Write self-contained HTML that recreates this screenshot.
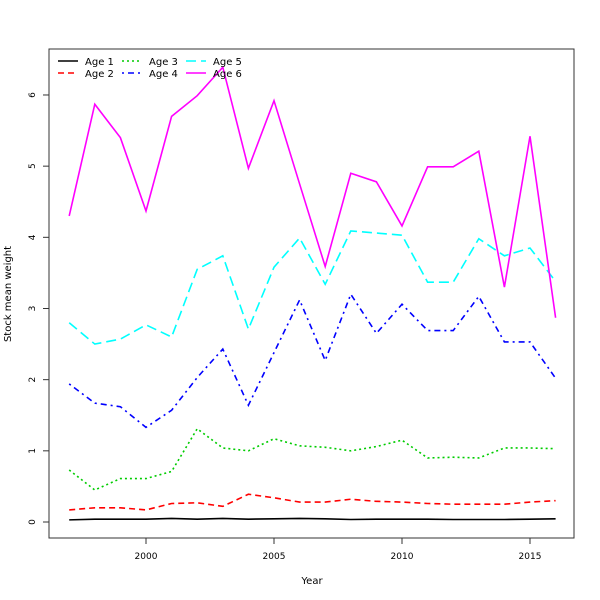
<!DOCTYPE html>
<html><head><meta charset="utf-8"><style>
body{margin:0;background:#fff}
svg{display:block;font-family:"DejaVu Sans","Liberation Sans",sans-serif}
</style></head><body>
<svg id="chart" width="600" height="600">
<rect x="0" y="0" width="600" height="600" fill="#fff"/>
<rect x="49" y="49" width="525" height="489" fill="none" stroke="#333" stroke-width="1"/>
<g id="axes"></g><g id="series"></g><g id="legend"></g>
<text x="312" y="584" text-anchor="middle" font-size="10">Year</text>
<text x="11" y="294" text-anchor="middle" font-size="10" transform="rotate(-90 11 294)">Stock mean weight</text>
</svg>
<script>
const years=[1997,1998,1999,2000,2001,2002,2003,2004,2005,2006,2007,2008,2009,2010,2011,2012,2013,2014,2015,2016];
const age1=[0.03,0.04,0.04,0.04,0.05,0.04,0.05,0.04,0.045,0.05,0.045,0.035,0.04,0.04,0.04,0.035,0.035,0.035,0.04,0.045];
const age2=[0.17,0.20,0.20,0.17,0.26,0.27,0.22,0.39,0.34,0.28,0.28,0.32,0.29,0.28,0.26,0.25,0.25,0.25,0.28,0.30];
const age3=[0.73,0.45,0.61,0.61,0.71,1.31,1.04,1.00,1.17,1.07,1.05,1.00,1.06,1.15,0.90,0.91,0.90,1.04,1.04,1.03];
const age4=[1.94,1.67,1.62,1.33,1.57,2.03,2.43,1.64,2.38,3.12,2.27,3.20,2.65,3.06,2.69,2.69,3.17,2.53,2.53,2.02];
const age5=[2.80,2.50,2.57,2.77,2.60,3.55,3.74,2.71,3.58,3.99,3.34,4.09,4.06,4.03,3.37,3.37,3.98,3.74,3.85,3.38];
const age6=[4.30,5.87,5.40,4.37,5.70,5.99,6.39,4.97,5.92,4.75,3.59,4.90,4.78,4.16,4.99,4.99,5.21,3.30,5.42,2.87];
const xTicks=[2000,2005,2010,2015];
const yTicks=[0,1,2,3,4,5,6];
const NS='http://www.w3.org/2000/svg';
function xs(v){return 146+(v-2000)*25.6;}
function ys(v){return 522-v*71.17;}
function mk(tag,attrs,parent){const e=document.createElementNS(NS,tag);for(const k in attrs)e.setAttribute(k,attrs[k]);parent.appendChild(e);return e;}
const axes=document.getElementById('axes');
xTicks.forEach(t=>{
  const l=mk('line',{x1:xs(t),x2:xs(t),y1:538,y2:544,stroke:'#333'},axes);
  
  
  const tx=mk('text',{x:xs(t),y:559,'text-anchor':'middle','font-size':9},axes);
  tx.textContent=t;
  
  
});
yTicks.forEach(t=>{
  const l=mk('line',{x1:43,x2:49,y1:ys(t),y2:ys(t),stroke:'#333'},axes);
  
  
  const tx=mk('text',{x:35,y:ys(t),'text-anchor':'middle','font-size':9,transform:`rotate(-90 35 ${ys(t)})`},axes);
  tx.textContent=t;
  
  
});
const series=[
 {n:'Age 1',d:age1,c:'#000',da:''},
 {n:'Age 2',d:age2,c:'#f00',da:'6 4'},
 {n:'Age 3',d:age3,c:'#0c0',da:'2 3'},
 {n:'Age 4',d:age4,c:'#00f',da:'2 4 6 4'},
 {n:'Age 5',d:age5,c:'#0ff',da:'10 5'},
 {n:'Age 6',d:age6,c:'#f0f',da:''}];
const sg=document.getElementById('series');
series.forEach((s,i)=>{
  const p=mk('polyline',{points:s.d.map((v,j)=>xs(years[j])+','+ys(v)).join(' '),fill:'none',stroke:s.c,'stroke-width':1.6,'stroke-dasharray':s.da},sg);
  
  
});
const lg=document.getElementById('legend');
series.forEach((s,i)=>{
  const col=Math.floor(i/2),row=i%2;
  const x0=58+col*64,y0=61+row*12;
  const l=mk('line',{x1:x0,x2:x0+20,y1:y0,y2:y0,stroke:s.c,'stroke-width':1.6,'stroke-dasharray':s.da},lg);
  
  
  const t=mk('text',{x:x0+27,y:y0+4,'font-size':10},lg);
  t.textContent=s.n;
  
  
});
</script>
</body></html>
